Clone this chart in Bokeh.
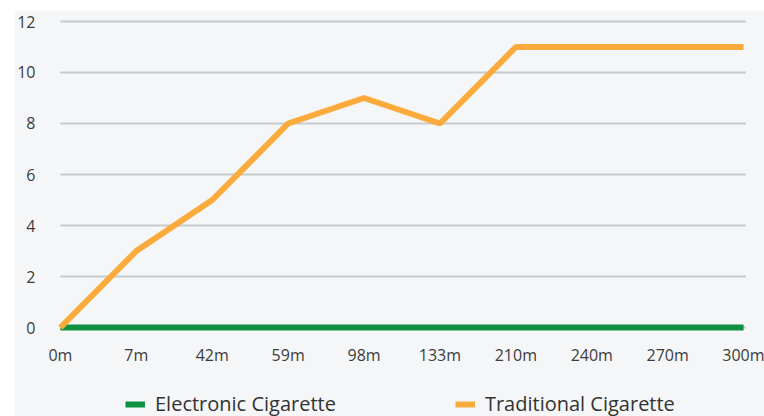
from bokeh.plotting import figure
from bokeh.models import Range1d, Legend, LegendItem, FixedTicker
from bokeh.embed import file_html
from bokeh.resources import INLINE

# Time after use and the measured values for each product
time_labels = ["0m", "7m", "42m", "59m", "98m", "133m", "210m", "240m", "270m", "300m"]
electronic = [0, 0, 0, 0, 0, 0, 0, 0, 0, 0]
traditional = [0, 3, 5, 8, 9, 8, 11, 11, 11, 11]
y_ticks = [0, 2, 4, 6, 8, 10, 12]

BG = "#f4f6f7"
ORANGE = "#fbab3c"
GREEN = "#0f9143"
GRID = "#c8cacb"
FONT = "Open Sans"

xs = list(range(len(time_labels)))

# The frame runs down to the bottom edge; the x-axis sits at y = 0 and the
# legend lives in the space underneath it.
p = figure(
    width=750, height=406,
    output_backend="svg", toolbar_location=None,
    x_range=Range1d(-0.2755, 9.2755), y_range=Range1d(-3.49, 12.196),
    min_border_left=22, min_border_right=0, min_border_top=6, min_border_bottom=0,
    background_fill_color=BG, border_fill_color=BG,
)
p.margin = (10, 0, 0, 14)
p.outline_line_color = None

# Horizontal grid lines spanning the first to the last time point
p.segment(x0=[xs[0]] * len(y_ticks), x1=[xs[-1] + 0.03] * len(y_ticks),
          y0=y_ticks, y1=y_ticks, line_color=GRID, line_width=2, level="underlay")

r_elec = p.line(xs, electronic, line_color=GREEN, line_width=6)
r_trad = p.line(xs, traditional, line_color=ORANGE, line_width=6)

# Axes: labels only, no lines or ticks
p.xaxis.fixed_location = 0
p.xaxis.ticker = FixedTicker(ticks=xs)
p.xaxis.major_label_overrides = {i: t for i, t in enumerate(time_labels)}
p.yaxis.ticker = FixedTicker(ticks=y_ticks)
for ax in (p.xaxis[0], p.yaxis[0]):
    ax.axis_line_color = None
    ax.major_tick_line_color = None
    ax.minor_tick_line_color = None
    ax.major_tick_out = 0
    ax.major_tick_in = 0
    ax.major_label_text_font = FONT
    ax.major_label_text_font_size = "16px"
    ax.major_label_text_color = "#3c3c3c"
p.xaxis.major_label_standoff = 16
p.yaxis.major_label_standoff = 4

p.xgrid.grid_line_color = None
p.ygrid.grid_line_color = None

legend = Legend(
    items=[
        LegendItem(label="Electronic Cigarette", renderers=[r_elec]),
        LegendItem(label="Traditional Cigarette", renderers=[r_trad]),
    ],
    orientation="horizontal",
    location=(86, -1),
    background_fill_alpha=0,
    border_line_color=None,
    label_text_font=FONT,
    label_text_font_size="20px",
    label_text_color="#333333",
    glyph_width=20,
    spacing=119,
    padding=0,
    margin=0,
    label_standoff=10,
)
p.add_layout(legend, "center")

open("out.html", "w").write(file_html(p, INLINE))
